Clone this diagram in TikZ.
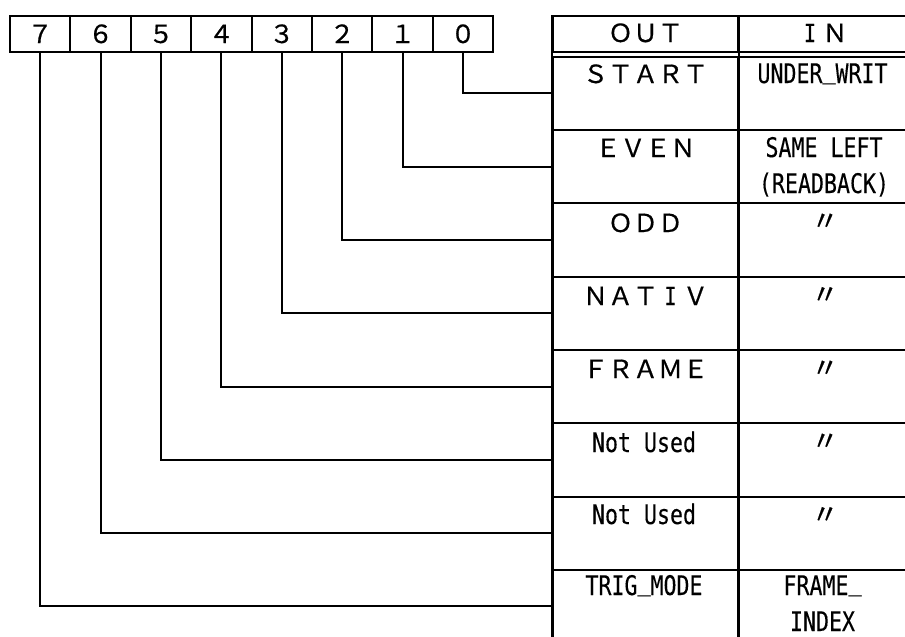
\documentclass[tikz,border=0pt]{standalone}
\usepackage{fontspec}
\newfontfamily\widefont[FakeBold=0.6]{Noto Sans CJK JP}
\newfontfamily\condmono[FakeStretch=0.8,FakeBold=0.25]{DejaVu Sans Mono}
% slab-serif capital I inside full-width lettering
\newcommand\slabI{\makebox[1em]{\condmono I}}
% underscore sitting on the baseline
\newcommand\ubar{\raisebox{5pt}{\_}}

\begin{document}
\begin{tikzpicture}[x=1pt,y=-1pt,
  rule/.style={line width=2pt},
  bitcell/.style={draw, rule, minimum width=60.4pt, minimum height=36pt, inner sep=0pt},
  headcell/.style={draw, rule, minimum height=35.7pt, inner sep=0pt},
  outcell/.style={draw, rule, minimum width=185pt, minimum height=73.3pt, inner sep=0pt},
  incell/.style={draw, rule, minimum width=180pt, minimum height=73.3pt, inner sep=0pt},
  widetxt/.style={anchor=base, inner sep=0pt, font={\widefont\fontsize{25pt}{25pt}\selectfont}},
  monotxt/.style={anchor=base, inner sep=0pt, font={\condmono\fontsize{27pt}{27pt}\selectfont}},
  dittotxt/.style={anchor=center, inner sep=0pt, font={\widefont\fontsize{27pt}{27pt}\selectfont}}
]
\useasboundingbox (0,0) rectangle (905,637);

% ---- register bits 7..0
\foreach \k in {0,...,7}{
  \node[bitcell] (b\k) at ({10+60.4*(7-\k)+30.2},34) {};
}
\node[widetxt] (d7) at (b7 |- 0,43) {７};
\node[widetxt] (d6) at (b6 |- 0,43) {６};
\node[widetxt] (d5) at (b5 |- 0,43) {５};
\node[widetxt] (d4) at (b4 |- 0,43) {４};
\node[widetxt] (d3) at (b3 |- 0,43) {３};
\node[widetxt] (d2) at (b2 |- 0,43) {２};
\node[widetxt] (d1) at (b1 |- 0,43) {１};
\node[widetxt] (d0) at (b0 |- 0,43) {０};

% ---- table header (right column runs past the page edge)
\node[headcell, minimum width=185pt] (hout) at (645.5,33.85) {};
\node[headcell, minimum width=180pt] (hin) at (828,33.85) {};
\node[widetxt] (thout) at (645.5,42) {ＯＵＴ};
\node[widetxt] (thin) at (822.5,42) {\slabI Ｎ};

% ---- table rows
\foreach \k in {0,...,7}{
  \node[outcell] (o\k) at (645.5,{93.35+73.3*\k}) {};
  \node[incell]  (i\k) at (828,{93.35+73.3*\k}) {};
}
% outer border and column divider through the double rule
\draw[rule] (hout.north west) -- (o7.south west);
\draw[rule] (hout.north east) -- (o7.south east);

% ---- cell texts
\node[widetxt] (t0o) at (645.5,83) {ＳＴＡＲＴ};
\node[monotxt] (t0i) at (822.5,83) {UNDER\ubar WRIT};

\node[widetxt] (t1o) at (645.5,157) {ＥＶＥＮ};
\node[monotxt] (t1i) at (824,157) {SAME LEFT};
\node[monotxt] (t1j) at (824,193) {(READBACK)};

\node[widetxt] (t2o) at (645.5,232) {ＯＤＤ};
\node[dittotxt] (t2i) at (825,222) {〃};

\node[widetxt] (t3o) at (645.5,305) {ＮＡＴ\slabI Ｖ};
\node[dittotxt] (t3i) at (825,295.5) {〃};

\node[widetxt] (t4o) at (645.5,378) {ＦＲＡＭＥ};
\node[dittotxt] (t4i) at (825,369) {〃};

\node[monotxt] (t5o) at (644,452) {Not Used};
\node[dittotxt] (t5i) at (825,442) {〃};

\node[monotxt] (t6o) at (644,524) {Not Used};
\node[dittotxt] (t6i) at (825,515.5) {〃};

\node[monotxt] (t7o) at (644,595) {TRIG\ubar MODE};
\node[monotxt] (t7i) at (822.5,595) {FRAME\ubar};
\node[monotxt] (t7j) at (822.5,631) {INDEX};

% ---- bit-to-row connectors
\foreach \k in {0,...,7}{
  \draw[rule] (b\k.south) |- (o\k.west);
}
\end{tikzpicture}
\end{document}
